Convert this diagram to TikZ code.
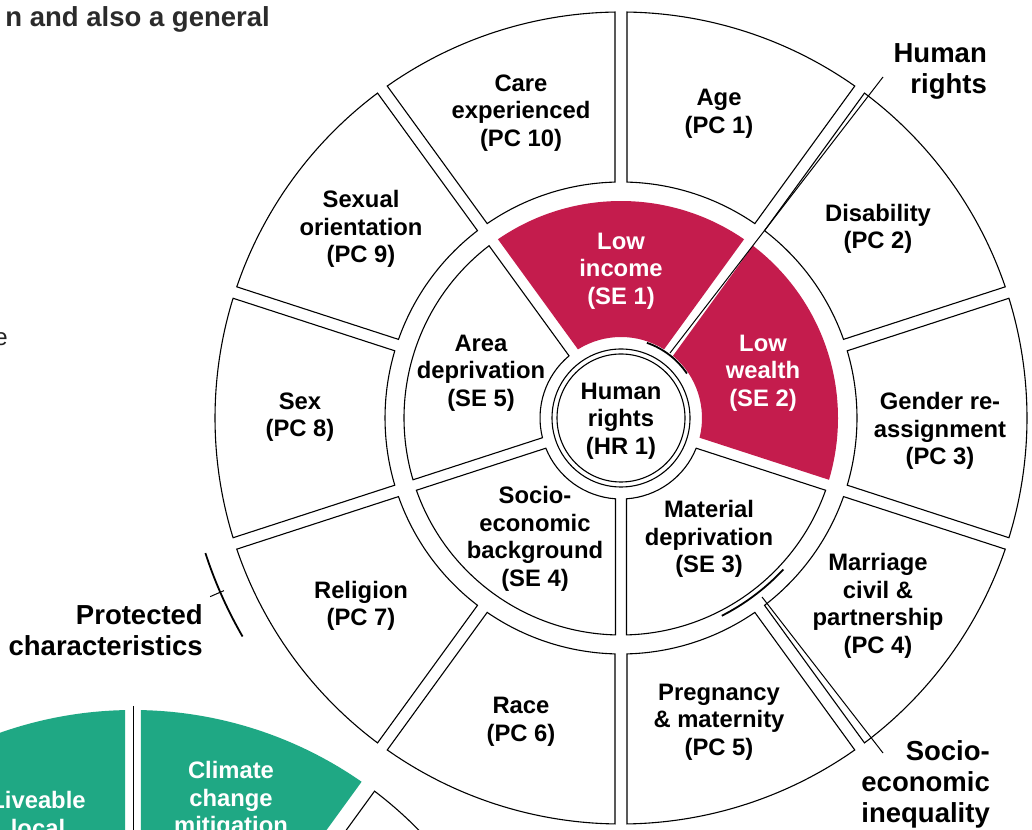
\documentclass[tikz,border=0pt]{standalone}
\usepackage{fontspec}
\setmainfont{Liberation Sans}
\definecolor{crim}{HTML}{C41C4D}
\definecolor{greenseg}{HTML}{1FA884}
\definecolor{titlegray}{HTML}{2B2B2B}
\definecolor{bodygray}{HTML}{222222}
\newcommand\wheelseg[6]{%
  \pgfmathsetmacro\wsAo{#2+asin(#6/#5)}%
  \pgfmathsetmacro\wsBo{#3-asin(#6/#5)}%
  \pgfmathsetmacro\wsAi{#2+asin(#6/#4)}%
  \pgfmathsetmacro\wsBi{#3-asin(#6/#4)}%
  \path[#1] (\wsAo:#5) arc[start angle=\wsAo, end angle=\wsBo, radius=#5]
    -- (\wsBi:#4) arc[start angle=\wsBi, end angle=\wsAi, radius=#4] -- cycle;}
\tikzset{
  wseg/.style={draw=black, line width=1.1pt, fill=white, line join=miter},
  cseg/.style={fill=crim},
  gseg/.style={fill=greenseg},
  lbl/.style={font=\bfseries\fontsize{23.8}{27.5}\selectfont, align=center, text=black, inner sep=0pt},
  wlbl/.style={lbl, text=white},
  biglbl/.style={font=\bfseries\fontsize{27.5}{31}\selectfont, align=right, inner sep=0pt, anchor=east},
  bracket/.style={line width=1.8pt},
  leader/.style={line width=1pt},
}
\begin{document}
\begin{tikzpicture}[x=1pt,y=1pt]
\useasboundingbox (0,0) rectangle (1032,829);
\clip (0,0) rectangle (1032,829);
\fill[white] (0,0) rectangle (1032,829);

% ---------- main wheel ----------
\begin{scope}[shift={(621,411)}]
  % outer ring: protected characteristics
  \wheelseg{wseg}{90}{126}{236}{406}{6}
  \wheelseg{wseg}{54}{90}{236}{406}{6}
  \wheelseg{wseg}{18}{54}{236}{406}{6}
  \wheelseg{wseg}{-18}{18}{236}{406}{6}
  \wheelseg{wseg}{-54}{-18}{236}{406}{6}
  \wheelseg{wseg}{-90}{-54}{236}{406}{6}
  \wheelseg{wseg}{-126}{-90}{236}{406}{6}
  \wheelseg{wseg}{-162}{-126}{236}{406}{6}
  \wheelseg{wseg}{162}{198}{236}{406}{6}
  \wheelseg{wseg}{126}{162}{236}{406}{6}
  % middle ring: socio-economic
  \wheelseg{cseg}{54}{126}{81}{217}{5.5}
  \wheelseg{cseg}{-18}{54}{81}{217}{5.5}
  \wheelseg{wseg}{-90}{-18}{81}{217}{5.5}
  \wheelseg{wseg}{-162}{-90}{81}{217}{5.5}
  \wheelseg{wseg}{126}{198}{81}{217}{5.5}
  % centre
  \draw[wseg] (0,0) circle[radius=69];
  \draw[line width=1.1pt] (0,0) circle[radius=64];
  % bracket arcs
  \draw[bracket] (34:79.5) arc[start angle=34, end angle=71, radius=79.5];
  \draw[bracket] (-63:222) arc[start angle=-63, end angle=-43, radius=222];
  \draw[bracket] (198:437) arc[start angle=198, end angle=210, radius=437];
  \coordinate (tickin) at (203.5:433);
  \coordinate (tickout) at (203.5:448);
  \draw[leader] (tickin) -- (tickout);
\end{scope}

% leader lines
\coordinate (hrA) at (670,476);
\coordinate (hrB) at (883,752);
\draw[leader] (hrA) -- (hrB);
\coordinate (seA) at (762,232);
\coordinate (seB) at (883,76);
\draw[leader] (seA) -- (seB);

% ---------- partial green wheel ----------
\begin{scope}[shift={(133,-281)}]
  \wheelseg{gseg}{90}{126}{200}{400}{8}
  \wheelseg{gseg}{54}{90}{200}{400}{8}
  \wheelseg{wseg}{18}{54}{200}{400}{8}
\end{scope}
\coordinate (gA) at (133,123);
\coordinate (gB) at (133,-20);
\draw[leader] (gA) -- (gB);

% ---------- labels ----------
\node[lbl] (pc10) at (521,716) {Care\\experienced\\(PC 10)};
\node[lbl] (pc1) at (719,715) {Age\\(PC 1)};
\node[lbl] (pc2) at (878,600) {Disability\\(PC 2)};
\node[lbl] (pc3) at (940,398) {Gender re-\\assignment\\(PC 3)};
\node[lbl] (pc4) at (878,223) {Marriage\\civil \&\\partnership\\(PC 4)};
\node[lbl] (pc5) at (719,107) {Pregnancy\\\& maternity\\(PC 5)};
\node[lbl] (pc6) at (521,107) {Race\\(PC 6)};
\node[lbl] (pc7) at (361,223) {Religion\\(PC 7)};
\node[lbl] (pc8) at (300,412) {Sex\\(PC 8)};
\node[lbl] (pc9) at (361,600) {Sexual\\orientation\\(PC 9)};

\node[wlbl] (se1) at (621,558) {Low\\income\\(SE 1)};
\node[wlbl] (se2) at (763,456) {Low\\wealth\\(SE 2)};
\node[lbl] (se3) at (709,290) {Material\\deprivation\\(SE 3)};
\node[lbl] (se4) at (535,290) {Socio-\\economic\\background\\(SE 4)};
\node[lbl] (se5) at (481,456) {Area\\deprivation\\(SE 5)};
\node[lbl] (hr1) at (621,408) {Human\\rights\\(HR 1)};

\node[biglbl] (hrlabel) at (987,758) {Human\\rights};
\node[biglbl] (pclabel) at (203,199) {Protected\\characteristics};
\node[biglbl] (selabel) at (990,45) {Socio-\\economic\\inequality};

\node[wlbl] (climate) at (231,29) {Climate\\change\\mitigation};
\node[wlbl] (liveable) at (38,15) {Liveable\\local};

\node[font=\bfseries\fontsize{27.5}{32}\selectfont, text=titlegray, anchor=base east, inner sep=0pt] (title) at (270,802) {n and also a general};
\node[font=\fontsize{24}{28}\selectfont, text=bodygray, anchor=base east, inner sep=0pt] (frag) at (8,483) {e};
\end{tikzpicture}
\end{document}
